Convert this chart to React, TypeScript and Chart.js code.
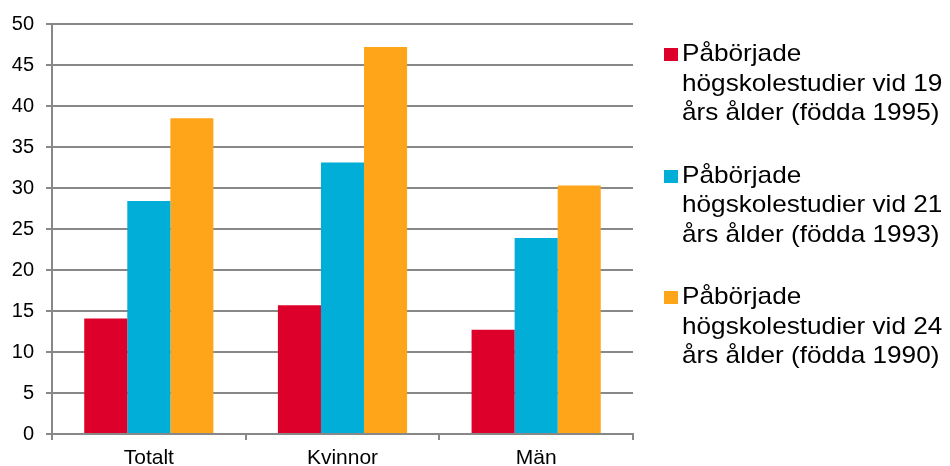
import React, { useEffect, useRef } from "react";
import { Chart, registerables } from "chart.js";

Chart.register(...registerables);

const categories = ["Totalt", "Kvinnor", "Män"];
const seriesLabels = [
  ["Påbörjade", "högskolestudier vid 19", "års ålder (födda 1995)"],
  ["Påbörjade", "högskolestudier vid 21", "års ålder (födda 1993)"],
  ["Påbörjade", "högskolestudier vid 24", "års ålder (födda 1990)"],
];
const age19 = [14.1, 15.7, 12.7];
const age21 = [28.4, 33.1, 23.9];
const age24 = [38.5, 47.2, 30.3];
const colors = ["#DC002A", "#00AED8", "#FFA51A"];
const yMin = 0;
const yMax = 50;
const yStep = 5;

const FONT = "'Liberation Sans', Arial, sans-serif";
const GRID = "#888888";

export default function App() {
  const ref = useRef<HTMLCanvasElement | null>(null);

  useEffect(() => {
    if (!ref.current) return;
    const chart = new Chart(ref.current, {
      type: "bar",
      data: {
        labels: categories,
        datasets: [age19, age21, age24].map((d, i) => ({
          label: seriesLabels[i].join(" "),
          data: d,
          backgroundColor: colors[i],
          borderWidth: 0,
          barPercentage: 1,
          categoryPercentage: 0.667,
        })),
      },
      options: {
        animation: false,
        responsive: false,
        maintainAspectRatio: false,
        devicePixelRatio: 1,
        layout: { padding: { top: 22, right: 317, bottom: 0, left: 0 } },
        plugins: { legend: { display: false }, tooltip: { enabled: false } },
        scales: {
          x: {
            grid: {
              offset: true,
              drawOnChartArea: false,
              color: GRID,
              lineWidth: 2,
              tickLength: 6,
            },
            border: { color: GRID, width: 2 },
            ticks: {
              color: "#000",
              padding: 6,
              font: { family: FONT, size: 21 },
            },
            afterFit: (s: any) => {
              s.height = 32;
            },
          },
          y: {
            min: yMin,
            max: yMax,
            grid: { color: GRID, lineWidth: 2, tickLength: 6 },
            border: { color: GRID, width: 2 },
            ticks: {
              stepSize: yStep,
              color: "#000",
              padding: 12,
              font: { family: FONT, size: 20 },
            },
            afterFit: (s: any) => {
              s.width = 52;
            },
          },
        },
      },
    });
    return () => chart.destroy();
  }, []);

  return (
    <div style={{ position: "absolute", left: 0, top: 0, width: 950, height: 466, background: "#fff" }}>
      <canvas ref={ref} width={950} height={466} style={{ position: "absolute", left: 0, top: 0 }} />
      <div style={{ position: "absolute", left: 664, top: 38, fontFamily: FONT, fontSize: 24, lineHeight: "29.5px", color: "#000" }}>
        {seriesLabels.map((lines, i) => (
          <div key={i} style={{ position: "relative", paddingLeft: 18, marginBottom: i < 2 ? 33 : 0, whiteSpace: "nowrap" }}>
            <span style={{ position: "absolute", left: 0, top: 10, width: 14, height: 13, background: colors[i] }} />
            {lines.map((l, j) => (
              <div key={j} style={{ transform: "scaleX(1.09)", transformOrigin: "left center" }}>{l}</div>
            ))}
          </div>
        ))}
      </div>
    </div>
  );
}
